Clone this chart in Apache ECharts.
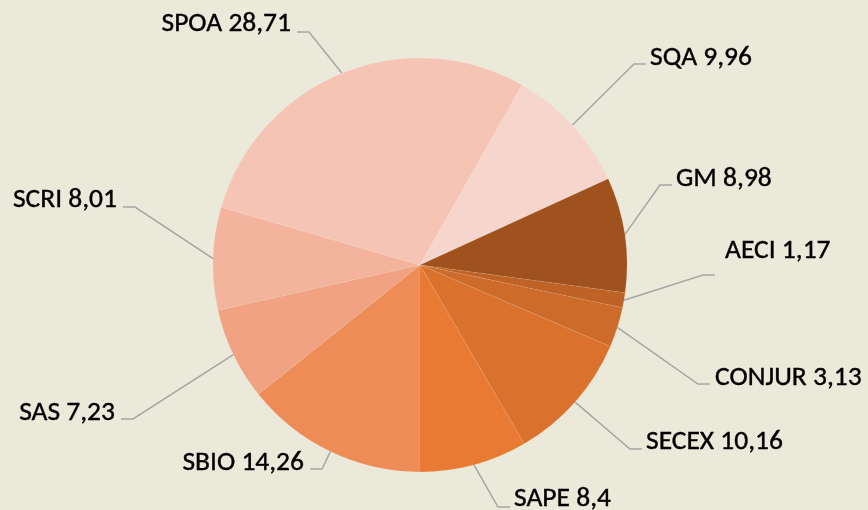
<!DOCTYPE html>
<html>
<head>
<meta charset="utf-8">
<script src="https://cdn.jsdelivr.net/npm/echarts@6/dist/echarts.min.js"></script>
<style>
  html, body { margin: 0; padding: 0; background: #EBE9D9; }
  #chart { width: 868px; height: 510px; }
</style>
</head>
<body>
<div id="chart"></div>
<script>
// Share per unit, in clockwise order starting at six o'clock
const categories = ['SBIO', 'SAS', 'SCRI', 'SPOA', 'SQA', 'GM', 'AECI', 'CONJUR', 'SECEX', 'SAPE'];
const values = [14.26, 7.23, 8.01, 28.71, 9.96, 8.98, 1.17, 3.13, 10.16, 8.4];

const sliceColors = {
  SBIO: '#EE8C58', SAS: '#F0A282', SCRI: '#F3B39C', SPOA: '#F5C4B4', SQA: '#F6D6CC',
  GM: '#A0521E', AECI: '#BF6226', CONJUR: '#CD6B2A', SECEX: '#DA722E', SAPE: '#E87A33'
};

// Where each callout sits: side of the text, text edge x, text middle y,
// and where its leader line ends
const callouts = {
  SPOA:   { side: 'right', tx: 291, ty: 24,  lx: 297, ly: 32 },
  SQA:    { side: 'left',  tx: 650, ty: 58,  lx: 646, ly: 64 },
  GM:     { side: 'left',  tx: 676, ty: 179, lx: 672, ly: 185 },
  AECI:   { side: 'left',  tx: 725, ty: 251, lx: 715, ly: 275 },
  CONJUR: { side: 'left',  tx: 715, ty: 378, lx: 710, ly: 384 },
  SECEX:  { side: 'left',  tx: 646, ty: 442, lx: 642, ly: 449 },
  SAPE:   { side: 'left',  tx: 514, ty: 499, lx: 510, ly: 507 },
  SBIO:   { side: 'right', tx: 304, ty: 463, lx: 310, ly: 469 },
  SAS:    { side: 'right', tx: 115, ty: 413, lx: 121, ly: 419 },
  SCRI:   { side: 'right', tx: 117, ty: 200, lx: 123, ly: 207 }
};
const elbow = 12;

const chart = echarts.init(document.getElementById('chart'), null, { renderer: 'canvas' });

const pieData = categories.map((name, i) => ({
  name: name,
  value: values[i],
  itemStyle: { color: sliceColors[name] }
}));

chart.setOption({
  backgroundColor: '#EBE9D9',
  animation: false,
  series: [{
    type: 'pie',
    center: [420, 265],
    radius: 207,
    startAngle: -90,
    clockwise: true,
    avoidLabelOverlap: false,
    data: pieData,
    itemStyle: { borderColor: 'rgba(255,255,255,0.15)', borderWidth: 0.5 },
    label: {
      show: true,
      position: 'outside',
      color: '#000000',
      fontFamily: 'Carlito, "Noto Sans", sans-serif',
      fontSize: 27.5,
      textBorderColor: '#000000',
      textBorderWidth: 0.4,
      formatter: p => p.name + ' ' + String(p.value).replace('.', ',')
    },
    labelLine: {
      show: true,
      smooth: false,
      lineStyle: { color: '#A6A6A6', width: 1.5 }
    },
    labelLayout: function (params) {
      const name = categories[params.dataIndex];
      const c = callouts[name];
      const start = params.labelLinePoints[0];
      const dir = c.side === 'left' ? 1 : -1;
      return {
        x: c.tx,
        y: c.ty,
        align: c.side,
        verticalAlign: 'middle',
        labelLinePoints: [
          [start[0], start[1]],
          [c.lx - dir * elbow, c.ly],
          [c.lx, c.ly]
        ]
      };
    }
  }]
});
</script>
</body>
</html>
